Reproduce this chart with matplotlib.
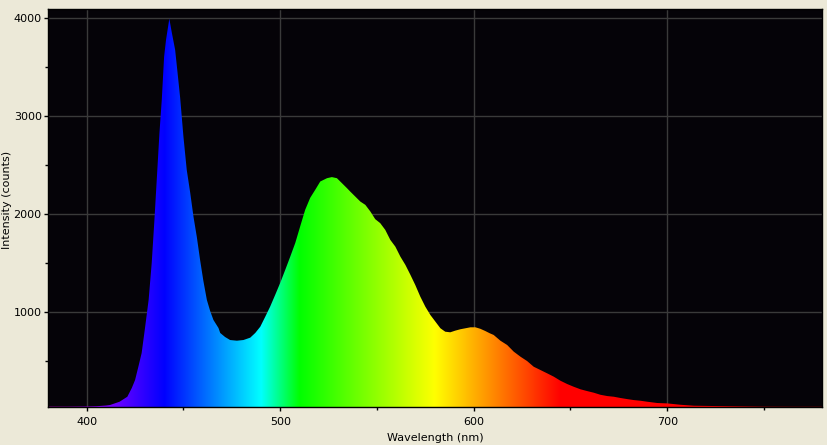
import numpy as np
import matplotlib
matplotlib.use('Agg')
import matplotlib.pyplot as plt
from matplotlib.patches import Polygon
from matplotlib.ticker import MultipleLocator

# spectrum (wavelength in nm, intensity in counts)
wavelength = [380, 390, 400, 405, 410, 412, 417, 421, 423.3, 425, 426.7, 428.4, 430, 432,
              433.6, 435, 436.2, 437.6, 438.8, 440, 441, 442.7, 444, 445.7, 446.9, 448.3,
              450, 451.7, 453.5, 455.2, 456.9, 458.6, 460.3, 462.1, 463.8, 465.5, 468.1,
              469, 471.5, 474.1, 477.6, 481, 484.5, 487.1, 489.7, 492.3, 494.8, 497.4,
              500, 502.6, 505.2, 507.8, 510.3, 512.9, 515.5, 518.1, 520.7, 524.2, 526.7,
              529.3, 531.9, 534.5, 536.2, 538.8, 541.4, 544, 546.6, 549.1, 551.7, 554.3,
              556.9, 559.5, 562.1, 564.7, 567.3, 569.8, 572.4, 575, 577.6, 580.2, 582.8,
              585.3, 587.9, 590.5, 593.1, 595.7, 598.3, 600.9, 603.4, 606, 608.3, 610.3,
              613.8, 617.3, 620.7, 624.2, 627.6, 631, 634.5, 637.9, 641.4, 644.8, 648.3,
              651.7, 655.2, 658.6, 662.1, 665.5, 669, 672.4, 675.9, 679.3, 682.7, 686.2,
              689.7, 694.8, 700, 706.8, 713.8, 724.1, 734.5, 750, 765, 780]
counts = [28, 28, 30, 33, 40, 45, 79, 130, 219, 301, 437, 577, 813, 1120,
          1498, 1939, 2348, 2829, 3167, 3607, 3781, 3996, 3852, 3678, 3453, 3187,
          2788, 2450, 2215, 1969, 1765, 1529, 1314, 1120, 1007, 915, 833,
          782, 741, 710, 703, 710, 734, 782, 846, 949, 1051, 1171,
          1294, 1427, 1563, 1703, 1870, 2041, 2164, 2246, 2331, 2365, 2376,
          2365, 2314, 2263, 2228, 2177, 2126, 2092, 2024, 1946, 1905, 1836,
          1734, 1665, 1563, 1478, 1376, 1273, 1154, 1051, 966, 898, 830,
          795, 789, 806, 820, 830, 840, 840, 825, 802, 779, 762,
          703, 659, 591, 539, 495, 437, 403, 370, 335, 294, 260,
          232, 206, 188, 171, 150, 137, 130, 117, 106, 96, 89,
          79, 66, 62, 48, 38, 35, 32, 28, 27, 27]

x_ticks = [400, 500, 600, 700]
y_ticks = [1000, 2000, 3000, 4000]


# classic wavelength -> rgb mapping
def wl_to_rgb(w):
  if w < 440:
    return (-(w - 440) / 60.0, 0.0, 1.0)
  if w < 490:
    return (0.0, (w - 440) / 50.0, 1.0)
  if w < 510:
    return (0.0, 1.0, -(w - 510) / 20.0)
  if w < 580:
    return ((w - 510) / 70.0, 1.0, 0.0)
  if w < 645:
    return (1.0, -(w - 645) / 65.0, 0.0)
  return (1.0, 0.0, 0.0)


fig = plt.figure(figsize=(8.28, 4.45), dpi=100, facecolor='#ECE9D8')
ax = fig.add_axes([48 / 828, 1 - 407 / 445, 774 / 828, 398 / 445])
ax.set_facecolor('#050308')

# colour gradient clipped to the spectrum outline
grid_wl = np.linspace(380, 780, 800)
grad = np.array([[wl_to_rgb(w) for w in grid_wl]])
im = ax.imshow(np.clip(grad, 0, 1), extent=[380, 780, 0, 4095], aspect='auto',
               interpolation='bilinear', zorder=1)
verts = [(wavelength[0], 0)] + list(zip(wavelength, counts)) + [(wavelength[-1], 0)]
outline = Polygon(verts, closed=True, facecolor='none', edgecolor='none', transform=ax.transData)
ax.add_patch(outline)
im.set_clip_path(outline)
ax.set_xlim(380, 780)
ax.set_ylim(25, 4095)

ax.set_xticks(x_ticks)
ax.set_yticks(y_ticks)
ax.xaxis.set_minor_locator(MultipleLocator(50))
ax.yaxis.set_minor_locator(MultipleLocator(500))
ax.tick_params(which='major', length=3, width=1, color='black', labelsize=8)
ax.tick_params(axis='y', which='major', pad=1.5)
ax.tick_params(axis='x', which='major', pad=4)
ax.tick_params(which='minor', length=2, width=1, color='black')
ax.set_axisbelow(True)
ax.grid(True, which='major', color='#3a3a3a', linewidth=1)

for s in ax.spines.values():
  s.set_color('black')
  s.set_linewidth(1)

ax.set_xlabel('Wavelength (nm)', fontsize=8)
ax.set_ylabel('Intensity (counts)', fontsize=8)
ax.xaxis.set_label_coords(0.5, -0.065)
ax.yaxis.set_label_coords(-0.047, 0.52)

fig.savefig('out.png', dpi=100, facecolor=fig.get_facecolor())
